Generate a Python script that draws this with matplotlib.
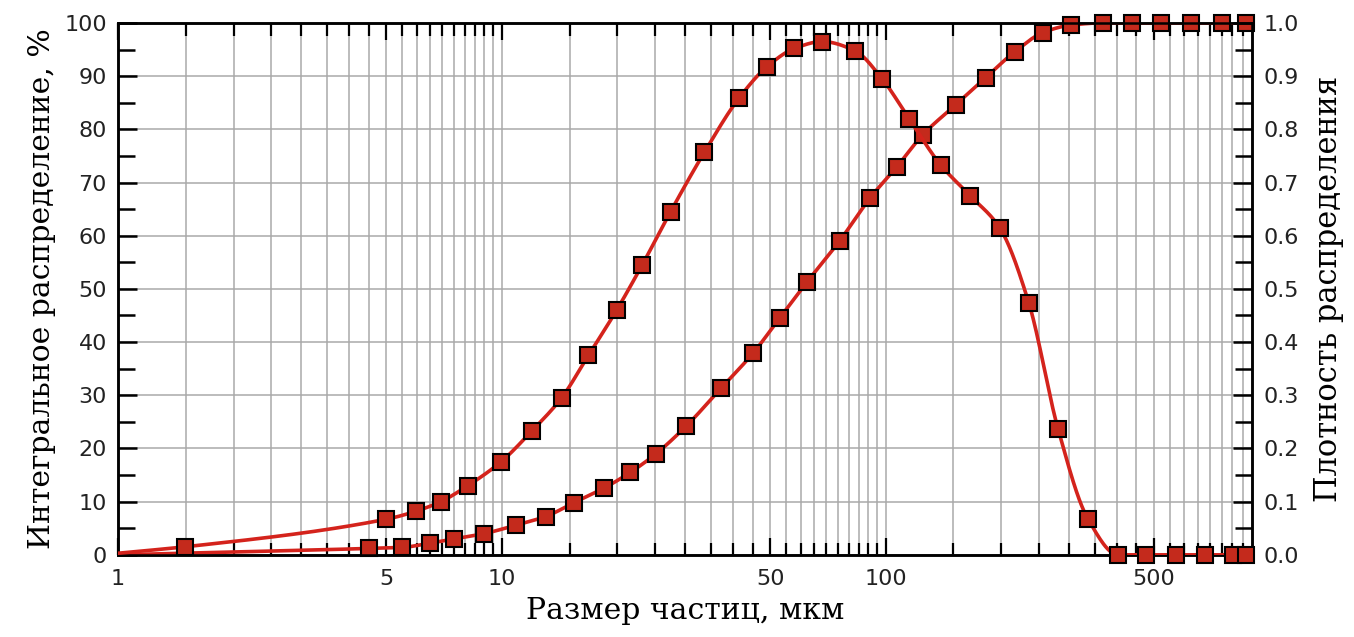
import numpy as np
import matplotlib.pyplot as plt
from matplotlib.ticker import FixedLocator, NullFormatter

# cumulative (integral) distribution, %
size_cum = [1.0, 4.5, 5.5, 6.5, 7.5, 9.0, 10.9, 13.0, 15.4, 18.4, 21.6, 25.2, 30.2,
            37.3, 45.2, 52.9, 62.2, 75.8, 90.8, 107, 125, 152, 182, 217, 257, 304,
            367, 439, 522, 625, 750, 870]
cum = [0.0, 1.2, 1.4, 2.2, 3.0, 4.0, 5.6, 7.2, 9.8, 12.5, 15.5, 19.0, 24.2,
       31.4, 38.0, 44.5, 51.2, 59.0, 67.0, 73.0, 79.0, 84.6, 89.7, 94.6, 98.2, 99.6,
       100, 100, 100, 100, 100, 100]

# distribution density
size_dens = [1.0, 1.49, 5.0, 5.97, 6.93, 8.15, 9.95, 11.97, 14.3, 16.8, 19.9, 23.2,
             27.5, 33.7, 41.4, 49.1, 57.8, 68.3, 83, 97.8, 115, 139, 166, 198, 236,
             281, 336, 403, 477, 570, 680, 805, 870]
dens = [0.003, 0.015, 0.067, 0.082, 0.10, 0.13, 0.175, 0.233, 0.295, 0.375, 0.46,
        0.545, 0.645, 0.757, 0.858, 0.918, 0.952, 0.965, 0.948, 0.895, 0.82, 0.733,
        0.675, 0.615, 0.473, 0.237, 0.068, 0.0, 0.0, 0.0, 0.0, 0.0, 0.0]

x_major = [1, 5, 10, 50, 100, 500]
x_labels = ["1", "5", "10", "50", "100", "500"]

red = "#d4231c"
fill = "#c42a1c"


def smooth_line(xs, ys, n=40):
    # monotone cubic (pchip) through the points, in log-x, only for drawing the line
    t = np.log10(xs)
    y = np.asarray(ys, float)
    h = np.diff(t)
    d = np.diff(y) / h
    m = np.zeros_like(y)
    for i in range(1, len(y) - 1):
        if d[i - 1] * d[i] > 0:
            w1 = 2 * h[i] + h[i - 1]
            w2 = h[i] + 2 * h[i - 1]
            m[i] = (w1 + w2) / (w1 / d[i - 1] + w2 / d[i])
    m[0] = d[0]
    m[-1] = d[-1]
    tt, yy = [], []
    for i in range(len(h)):
        s = np.linspace(0, 1, n)
        h00 = 2 * s**3 - 3 * s**2 + 1
        h10 = s**3 - 2 * s**2 + s
        h01 = -2 * s**3 + 3 * s**2
        h11 = s**3 - s**2
        tt.append(t[i] + s * h[i])
        yy.append(h00 * y[i] + h10 * h[i] * m[i] + h01 * y[i + 1] + h11 * h[i] * m[i + 1])
    return 10 ** np.concatenate(tt), np.concatenate(yy)


fig = plt.figure(figsize=(13.54, 6.37), dpi=100)
ax = fig.add_axes([0.0872, 0.129, 0.8375, 0.835])
ax2 = ax.twinx()

# minor steps: 0.5 in 1..10, 5 in 10..100, 50 in 100..1000
x_minor = list(np.arange(1.5, 10, 0.5)) + list(np.arange(15, 100, 5)) + list(np.arange(150, 900, 50))

ax.set_xscale("log")
ax.set_xlim(1, 900)
ax.set_ylim(0, 100)
ax2.set_ylim(0, 1.0)

ax.xaxis.set_major_locator(FixedLocator(x_major))
ax.xaxis.set_minor_locator(FixedLocator(x_minor))
ax.xaxis.set_minor_formatter(NullFormatter())
ax.set_xticklabels(x_labels)
ax.set_yticks(np.arange(0, 101, 10))
ax.yaxis.set_minor_locator(FixedLocator(np.arange(5, 100, 10)))
ax2.set_yticks(np.arange(0, 1.01, 0.1))
ax2.set_yticklabels(["%.1f" % v for v in np.arange(0, 1.01, 0.1)])
ax2.yaxis.set_minor_locator(FixedLocator(np.arange(0.05, 1.0, 0.1)))

ax.grid(which="both", axis="x", color="#a9a9a9", lw=1.1)
ax.grid(which="major", axis="y", color="#a9a9a9", lw=1.1)
ax.set_axisbelow(True)

ax.tick_params(axis="x", which="major", direction="in", top=True, length=12, width=1.6,
               labelsize=16, pad=10, labelcolor="#222222")
ax.tick_params(axis="x", which="minor", direction="in", top=True, length=9, width=1.6)
ax.tick_params(axis="y", which="major", direction="in", length=14, width=1.8, labelsize=16,
               pad=8, labelcolor="#222222")
ax.tick_params(axis="y", which="minor", direction="in", length=12, width=1.8)
ax2.tick_params(axis="y", which="major", direction="in", length=14, width=1.8, labelsize=16,
                pad=8, labelcolor="#222222")
ax2.tick_params(axis="y", which="minor", direction="in", length=12, width=1.8)

for a in (ax, ax2):
    for s in a.spines.values():
        s.set_linewidth(1.8)
        s.set_color("black")

mk = dict(marker="s", markersize=12, markerfacecolor=fill, markeredgecolor="black",
          markeredgewidth=1.5, ls="none", clip_on=False, zorder=4)

lx, ly = smooth_line(size_cum, cum)
ax.plot(lx, ly, color=red, lw=2.6, zorder=3)
ax.plot(size_cum[1:], cum[1:], **mk)

lx, ly = smooth_line(size_dens, dens)
ax2.plot(lx, ly, color=red, lw=2.6, zorder=3)
ax2.plot(size_dens[1:], dens[1:], **mk)

serif = ["DejaVu Serif"]
ax.set_xlabel("Размер частиц, мкм", family=serif, fontsize=21.5, labelpad=6)
ax.set_ylabel("Интегральное распределение, %", family=serif, fontsize=21.5, labelpad=6)
ax2.set_ylabel("Плотность распределения", family=serif, fontsize=22, labelpad=10)

fig.savefig("out.png", dpi=100)
